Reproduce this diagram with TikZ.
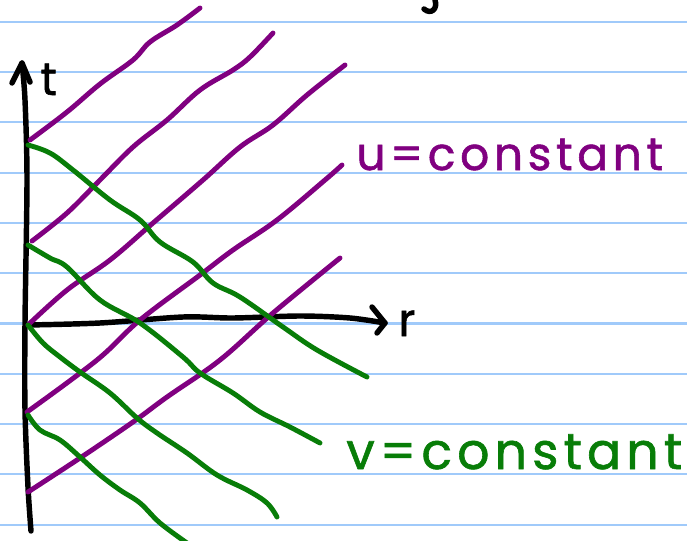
\documentclass[tikz,border=0pt]{standalone}
\usepackage{fontspec}
\newfontfamily\handfont[LetterSpace=10,FakeBold=1.2]{Poppins}
\usetikzlibrary{positioning,arrows.meta}
\definecolor{rulecol}{RGB}{160,202,250}
\definecolor{ucol}{RGB}{128,0,128}
\definecolor{vcol}{RGB}{8,125,8}

\begin{document}
\begin{tikzpicture}[
  x=0.02cm, y=-0.02cm,
  rule/.style={rulecol, line width=1.2pt},
  ink/.style={line width=2.8pt, line cap=round, line join=round},
  axis/.style={ink, black, line width=3.1pt},
  uline/.style={ink, ucol},
  vline/.style={ink, vcol},
  hand/.style={font=\handfont\fontsize{26}{30}\selectfont, inner sep=0pt, anchor=base west}
]
\useasboundingbox (0,0) rectangle (687,541);
\fill[white] (0,0) rectangle (687,541);
% ruled paper
\foreach \k in {0,...,10}
  \draw[rule] (0,{21.7+50.3*\k}) -- (687,{21.7+50.3*\k});

% axes
\coordinate (O) at (28,325);
\coordinate (ttip) at (22,63);
\coordinate (tbot) at (31,531);
\coordinate (rtip) at (385,323);
\draw[axis] plot[smooth] coordinates {(tbot) (28,487) (25,410) (25,323) (27,180) (25,100) (ttip)};
\draw[axis] (ttip) ++(-10,20) -- (ttip) -- ++(8,19);
\draw[axis] plot[smooth] coordinates {(O) (100,323) (183,317) (233,318) (300,316) (350,318) (rtip)};
\draw[axis] (rtip) ++(-13,-16) -- (rtip) -- ++(-8,10);
\node[hand] (tlabel) at (40,95) {t};
\node[hand] (rlabel) at (398,336) {r};

% leftover stroke from the line above
\draw[axis] (435,0) .. controls (438,9) and (431,15) .. (424,9);

% u = constant
\draw[uline] plot[smooth, tension=0.6] coordinates {(30,140) (67,112) (100,84) (133,60) (150,42) (177,25) (200,8)};
\draw[uline] plot[smooth, tension=0.6] coordinates {(32,241) (67,213) (100,180) (133,147) (167,120) (200,90) (233,70) (250,57) (273,33)};
\draw[uline] plot[smooth, tension=0.6] coordinates {(O) (67,290) (110,260) (153,223) (203,180) (240,147) (273,125) (307,95) (345,65)};
\draw[uline] plot[smooth, tension=0.6] coordinates {(27,412) (97,360) (140,320) (200,275) (233,250) (277,220) (325,180) (342,165)};
\draw[uline] plot[smooth, tension=0.6] coordinates {(28,492) (80,458) (133,422) (167,397) (220,360) (273,313) (340,258)};
\node[hand, ucol] (ulabel) at (356,170) {u=constant};

% v = constant
\draw[vline] plot[smooth, tension=0.6] coordinates {(28,145) (50,153) (73,170) (110,200) (140,220) (160,242) (193,262) (213,283) (240,297) (283,327) (317,350) (367,377)};
\draw[vline] plot[smooth, tension=0.6] coordinates {(28,245) (50,258) (67,267) (100,300) (140,323) (183,357) (200,373) (233,393) (260,412) (290,427) (320,443)};
\draw[vline] plot[smooth, tension=0.6] coordinates {(O) (43,343) (60,357) (80,372) (110,393) (137,418) (157,433) (187,453) (217,475) (247,490) (267,503) (277,517)};
\draw[vline] plot[smooth, tension=0.6] coordinates {(28,415) (40,430) (60,440) (80,457) (100,475) (120,490) (140,503) (160,523) (187,543)};
\node[hand, vcol, font=\handfont\fontsize{28.8}{32}\selectfont] (vlabel) at (346,469) {v=constant};
\end{tikzpicture}
\end{document}
